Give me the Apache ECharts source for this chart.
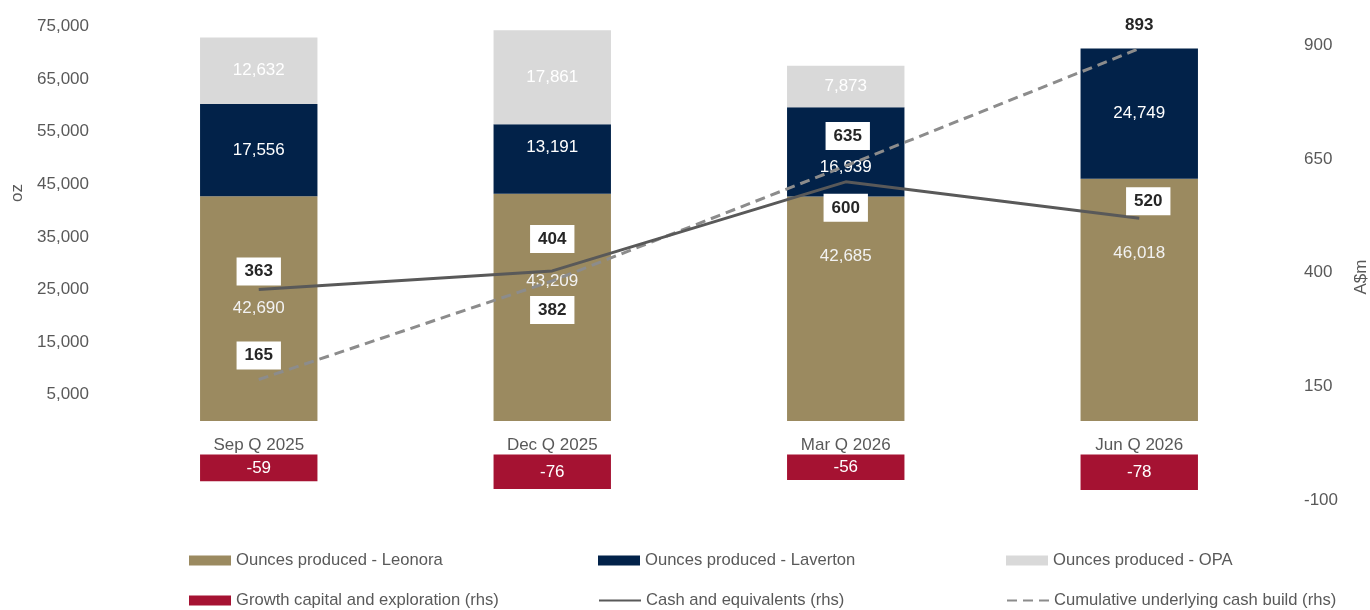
<!DOCTYPE html>
<html>
<head>
<meta charset="utf-8">
<script src="https://cdn.jsdelivr.net/npm/echarts@6/dist/echarts.min.js"></script>
<style>
html,body{margin:0;padding:0;background:#fff;}
#chart{width:1370px;height:610px;}
</style>
</head>
<body>
<div id="chart"></div>
<script>
// ---- data ----
const categories = ['Sep Q 2025', 'Dec Q 2025', 'Mar Q 2026', 'Jun Q 2026'];
const leonora = [42690, 43209, 42685, 46018];
const laverton = [17556, 13191, 16939, 24749];
const opa = [12632, 17861, 7873, null];
const growthCapital = [-59, -76, -56, -78];
const cashEquivalents = [363, 404, 600, 520];
const cumulativeCashBuild = [165, 382, 635, 893];
const seriesNames = [
  'Ounces produced - Leonora',
  'Ounces produced - Laverton',
  'Ounces produced - OPA',
  'Growth capital and exploration (rhs)',
  'Cash and equivalents (rhs)',
  'Cumulative underlying cash build (rhs)'
];

// ---- label placement (style, not data) ----
const leonoraLabelOffsets = [[0, 0], [0, -26], [0, -52], [0, -47]];
const lavertonLabelOffsets = [[0, 0], [0, -12], [0, 15], [0, 0]];
const cashLabelOffsets = [[0, -18], [0, -32], [0, 26], [9, -17]];
const cumLabelOffsets = [[0, -24], [0, 29], [2, -30], [0, -23]];

const FONT = "'Liberation Sans', Arial, sans-serif";
const FS = 17;
const C_LEO = '#9B8A60', C_LAV = '#022249', C_OPA = '#D9D9D9', C_RED = '#A51232',
      C_CASH = '#595959', C_CUM = '#8C8C8C';

const fmt = v => (v == null ? '' : Number(v).toLocaleString('en-US'));

function withOffsets(values, offsets) {
  return values.map((v, i) => ({ value: v, label: { offset: offsets[i] } }));
}

const barLabel = (color) => ({
  show: true, position: 'inside', color: color, fontFamily: FONT, fontSize: FS,
  formatter: p => fmt(p.value)
});

const boxLabel = {
  show: true, position: 'inside', color: '#262626', fontFamily: FONT, fontSize: FS,
  fontWeight: 'bold', backgroundColor: '#fff', padding: [5, 8, 5, 8], lineHeight: 18,
  formatter: p => String(p.value)
};

const chart = echarts.init(document.getElementById('chart'), null, { renderer: 'canvas' });

function legendAt(name, left, top, isLine) {
  const l = {
    data: [name], left: left, top: top, itemWidth: 42, itemHeight: isLine ? 11 : 10, itemGap: 0,
    padding: 0, selectedMode: false,
    textStyle: { color: '#595959', fontFamily: FONT, fontSize: 16.6 }
  };
  if (isLine) l.itemStyle = { opacity: 0 };
  else l.icon = 'rect';
  return l;
}

chart.setOption({
  animation: false,
  backgroundColor: '#fff',
  textStyle: { fontFamily: FONT },
  grid: { left: 112, right: 84, top: 0, bottom: 110 },
  legend: [
    legendAt(seriesNames[0], 189, 552),
    legendAt(seriesNames[1], 598, 552),
    legendAt(seriesNames[2], 1006, 552),
    legendAt(seriesNames[3], 189, 592),
    legendAt(seriesNames[4], 598, 592, true),
    legendAt(seriesNames[5], 1006, 592, true)
  ],
  graphic: [
    { type: 'text', x: 17, y: 193, rotation: Math.PI / 2,
      style: { text: 'oz', fill: '#595959', font: FS + 'px ' + FONT, align: 'center', verticalAlign: 'middle' } },
    { type: 'text', x: 1361, y: 277, rotation: Math.PI / 2,
      style: { text: 'A$m', fill: '#595959', font: FS + 'px ' + FONT, align: 'center', verticalAlign: 'middle' } }
  ],
  xAxis: {
    type: 'category', data: categories, boundaryGap: true, offset: -79,
    axisLine: { show: false },
    axisTick: { show: false },
    axisLabel: { color: '#595959', fontFamily: FONT, fontSize: FS, margin: 16 }
  },
  yAxis: [
    {
      type: 'value', min: -15000, max: 80000, interval: 10000,
      axisLine: { show: false }, axisTick: { show: false }, splitLine: { show: false },
      axisLabel: {
        color: '#595959', fontFamily: FONT, fontSize: FS, margin: 23,
        formatter: v => (v >= 5000 && v <= 75000 ? fmt(v) : '')
      }
    },
    {
      type: 'value', min: -100, max: 1000, interval: 250,
      axisLine: { show: false }, axisTick: { show: false }, splitLine: { show: false },
      axisLabel: {
        color: '#595959', fontFamily: FONT, fontSize: FS, margin: 18,
        formatter: v => (v >= -100 && v <= 900 ? String(v) : '')
      }
    }
  ],
  series: [
    {
      name: seriesNames[0], type: 'bar', stack: 'oz', yAxisIndex: 0, barWidth: '40%', barGap: '-100%',
      itemStyle: { color: C_LEO }, label: barLabel('#F2F2F2'),
      data: withOffsets(leonora, leonoraLabelOffsets)
    },
    {
      name: seriesNames[1], type: 'bar', stack: 'oz', yAxisIndex: 0, barWidth: '40%', barGap: '-100%',
      itemStyle: { color: C_LAV }, label: barLabel('#FFFFFF'),
      data: withOffsets(laverton, lavertonLabelOffsets)
    },
    {
      name: seriesNames[2], type: 'bar', stack: 'oz', yAxisIndex: 0, barWidth: '40%', barGap: '-100%',
      itemStyle: { color: C_OPA }, label: barLabel('#FFFFFF'),
      data: opa
    },
    {
      name: seriesNames[3], type: 'bar', yAxisIndex: 1, barWidth: '40%', barGap: '-100%',
      itemStyle: { color: C_RED }, label: barLabel('#FFFFFF'),
      data: growthCapital
    },
    {
      name: seriesNames[4], type: 'line', yAxisIndex: 1, symbol: 'circle', symbolSize: 0,
      showSymbol: true, z: 5,
      lineStyle: { color: C_CASH, width: 3 }, itemStyle: { color: C_CASH },
      label: boxLabel,
      data: withOffsets(cashEquivalents, cashLabelOffsets)
    },
    {
      name: seriesNames[5], type: 'line', yAxisIndex: 1, symbol: 'circle', symbolSize: 0,
      showSymbol: true, z: 4,
      lineStyle: { color: C_CUM, width: 3, type: [10, 6] }, itemStyle: { color: C_CUM },
      label: boxLabel,
      data: withOffsets(cumulativeCashBuild, cumLabelOffsets)
    }
  ]
});
</script>
</body>
</html>
